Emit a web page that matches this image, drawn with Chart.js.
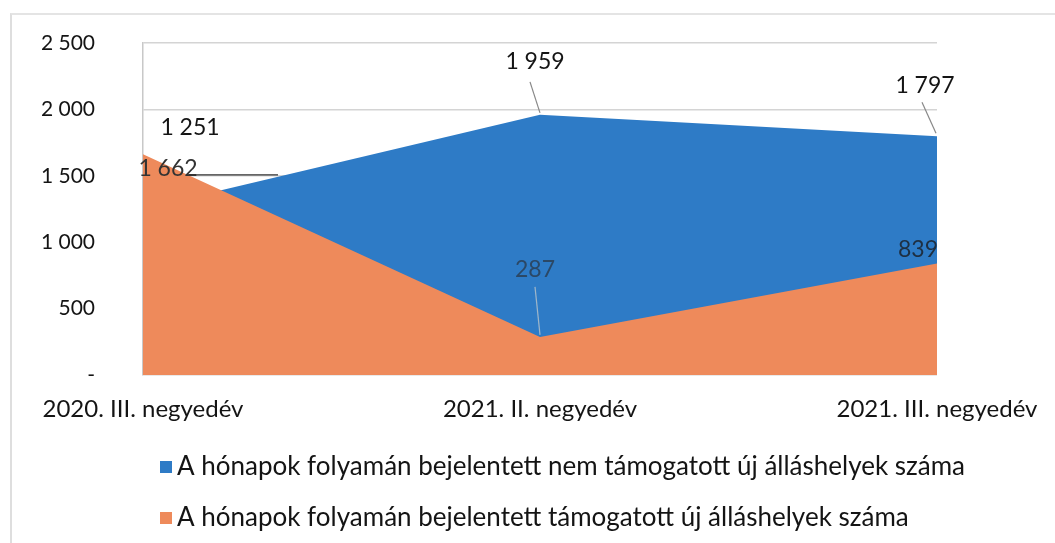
<!DOCTYPE html>
<html>
<head>
<meta charset="utf-8">
<script src="https://cdn.jsdelivr.net/npm/chart.js@4/dist/chart.umd.min.js"></script>
<style>
  html, body { margin: 0; padding: 0; background: #fff; }
  #wrap { position: relative; width: 1055px; height: 543px; }
  #frame { position: absolute; left: 10px; top: 13px; right: -5px; bottom: -5px; border-left: 2px solid #dedede; border-top: 2px solid #e4e4e4; pointer-events: none; }
  canvas { position: absolute; left: 0; top: 0; }
</style>
</head>
<body>
<div id="wrap">
  <canvas id="c" width="1055" height="543"></canvas>
  <div id="frame"></div>
</div>
<script>
const categories = ["2020. III. negyedév", "2021. II. negyedév", "2021. III. negyedév"];
const seriesNames = [
  "A hónapok folyamán bejelentett nem támogatott új álláshelyek száma",
  "A hónapok folyamán bejelentett támogatott új álláshelyek száma"
];
const unsupported = [1251, 1959, 1797];
const supported = [1662, 287, 839];
const yTicks = [0, 500, 1000, 1500, 2000, 2500];

const BLUE = "#2E7BC6";
const ORANGE = "#EE8A5B";
const FONT = "Lato, 'Open Sans', sans-serif";
const TEXT = "#141414";

function fmt(v) {
  if (v === 0) return "-";
  return String(v).replace(/\B(?=(\d{3})+(?!\d))/g, " ");
}

// label placement offsets (relative to the data point) — styling only
const labelStyle = {
  0: [ // blue
    { dx: 47, dy: -81, color: TEXT, lead: [[49, -34], [135, -34]], leadColor: "#333" },
    { dx: -5, dy: -53, color: TEXT, lead: [[-10, -33], [0, -2]], leadColor: "#888" },
    { dx: -12, dy: -51, color: TEXT, lead: [[-15, -34], [-1, -3]], leadColor: "#888" }
  ],
  1: [ // orange
    { dx: 25, dy: 14, color: "#333", lead: null },
    { dx: -5, dy: -67, color: "#2b4866", lead: [[-5, -50], [0, -2]], leadColor: "#9fb6c9" },
    { dx: -19, dy: -14, color: "#1e2f42", lead: null }
  ]
};

const labelPlugin = {
  id: "valueLabels",
  afterDatasetsDraw(chart) {
    const ctx = chart.ctx;
    ctx.save();
    chart.data.datasets.forEach((ds, di) => {
      const meta = chart.getDatasetMeta(di);
      meta.data.forEach((pt, i) => {
        const st = labelStyle[di][i];
        if (st.lead) {
          ctx.strokeStyle = st.leadColor;
          ctx.lineWidth = 1.2;
          ctx.beginPath();
          ctx.moveTo(pt.x + st.lead[0][0], pt.y + st.lead[0][1]);
          ctx.lineTo(pt.x + st.lead[1][0], pt.y + st.lead[1][1]);
          ctx.stroke();
        }
        ctx.fillStyle = st.color;
        ctx.font = "23px " + FONT;
        ctx.textAlign = "center";
        ctx.textBaseline = "middle";
        ctx.fillText(fmt(ds.data[i]), pt.x + st.dx, pt.y + st.dy);
      });
    });
    ctx.restore();
  }
};

const legendPlugin = {
  id: "customLegend",
  afterDraw(chart) {
    const ctx = chart.ctx;
    ctx.save();
    const items = [
      { text: seriesNames[0], color: BLUE, y: 467 },
      { text: seriesNames[1], color: ORANGE, y: 518 }
    ];
    items.forEach(it => {
      ctx.fillStyle = it.color;
      ctx.fillRect(160, it.y - 6, 12, 12);
      ctx.fillStyle = TEXT;
      ctx.font = "26px " + FONT;
      ctx.textAlign = "left";
      ctx.textBaseline = "middle";
      ctx.fillText(it.text, 177, it.y);
    });
    ctx.restore();
  }
};

new Chart(document.getElementById("c"), {
  type: "line",
  data: {
    labels: categories,
    datasets: [
      { label: seriesNames[0], data: unsupported, backgroundColor: BLUE, borderColor: BLUE, borderWidth: 0, fill: "origin", pointRadius: 0, tension: 0, order: 1 },
      { label: seriesNames[1], data: supported, backgroundColor: ORANGE, borderColor: ORANGE, borderWidth: 0, fill: "origin", pointRadius: 0, tension: 0, order: 0 }
    ]
  },
  options: {
    responsive: false,
    animation: false,
    layout: { padding: { top: 43, right: 118, left: 0, bottom: 0 } },
    plugins: { legend: { display: false }, tooltip: { enabled: false } },
    scales: {
      x: {
        offset: false,
        grid: { display: false, drawTicks: false },
        border: { display: false },
        ticks: { color: TEXT, font: { family: FONT, size: 24 }, padding: 20, maxRotation: 0, autoSkip: false },
        afterFit(s) { s.height = 168; s.paddingLeft = 0; s.paddingRight = 0; }
      },
      y: {
        min: 0, max: 2500,
        afterBuildTicks(s) { s.ticks = yTicks.map(v => ({ value: v })); },
        grid: { color: "#d4d4d4", lineWidth: 1.5, drawTicks: false },
        border: { display: true, color: "#c8c8c8", width: 1.5 },
        ticks: { color: TEXT, font: { family: FONT, size: 21 }, padding: 48, callback: v => fmt(v) },
        afterFit(s) { s.width = 143; s.paddingTop = 0; s.paddingBottom = 0; }
      }
    }
  },
  plugins: [labelPlugin, legendPlugin]
});
</script>
</body>
</html>
